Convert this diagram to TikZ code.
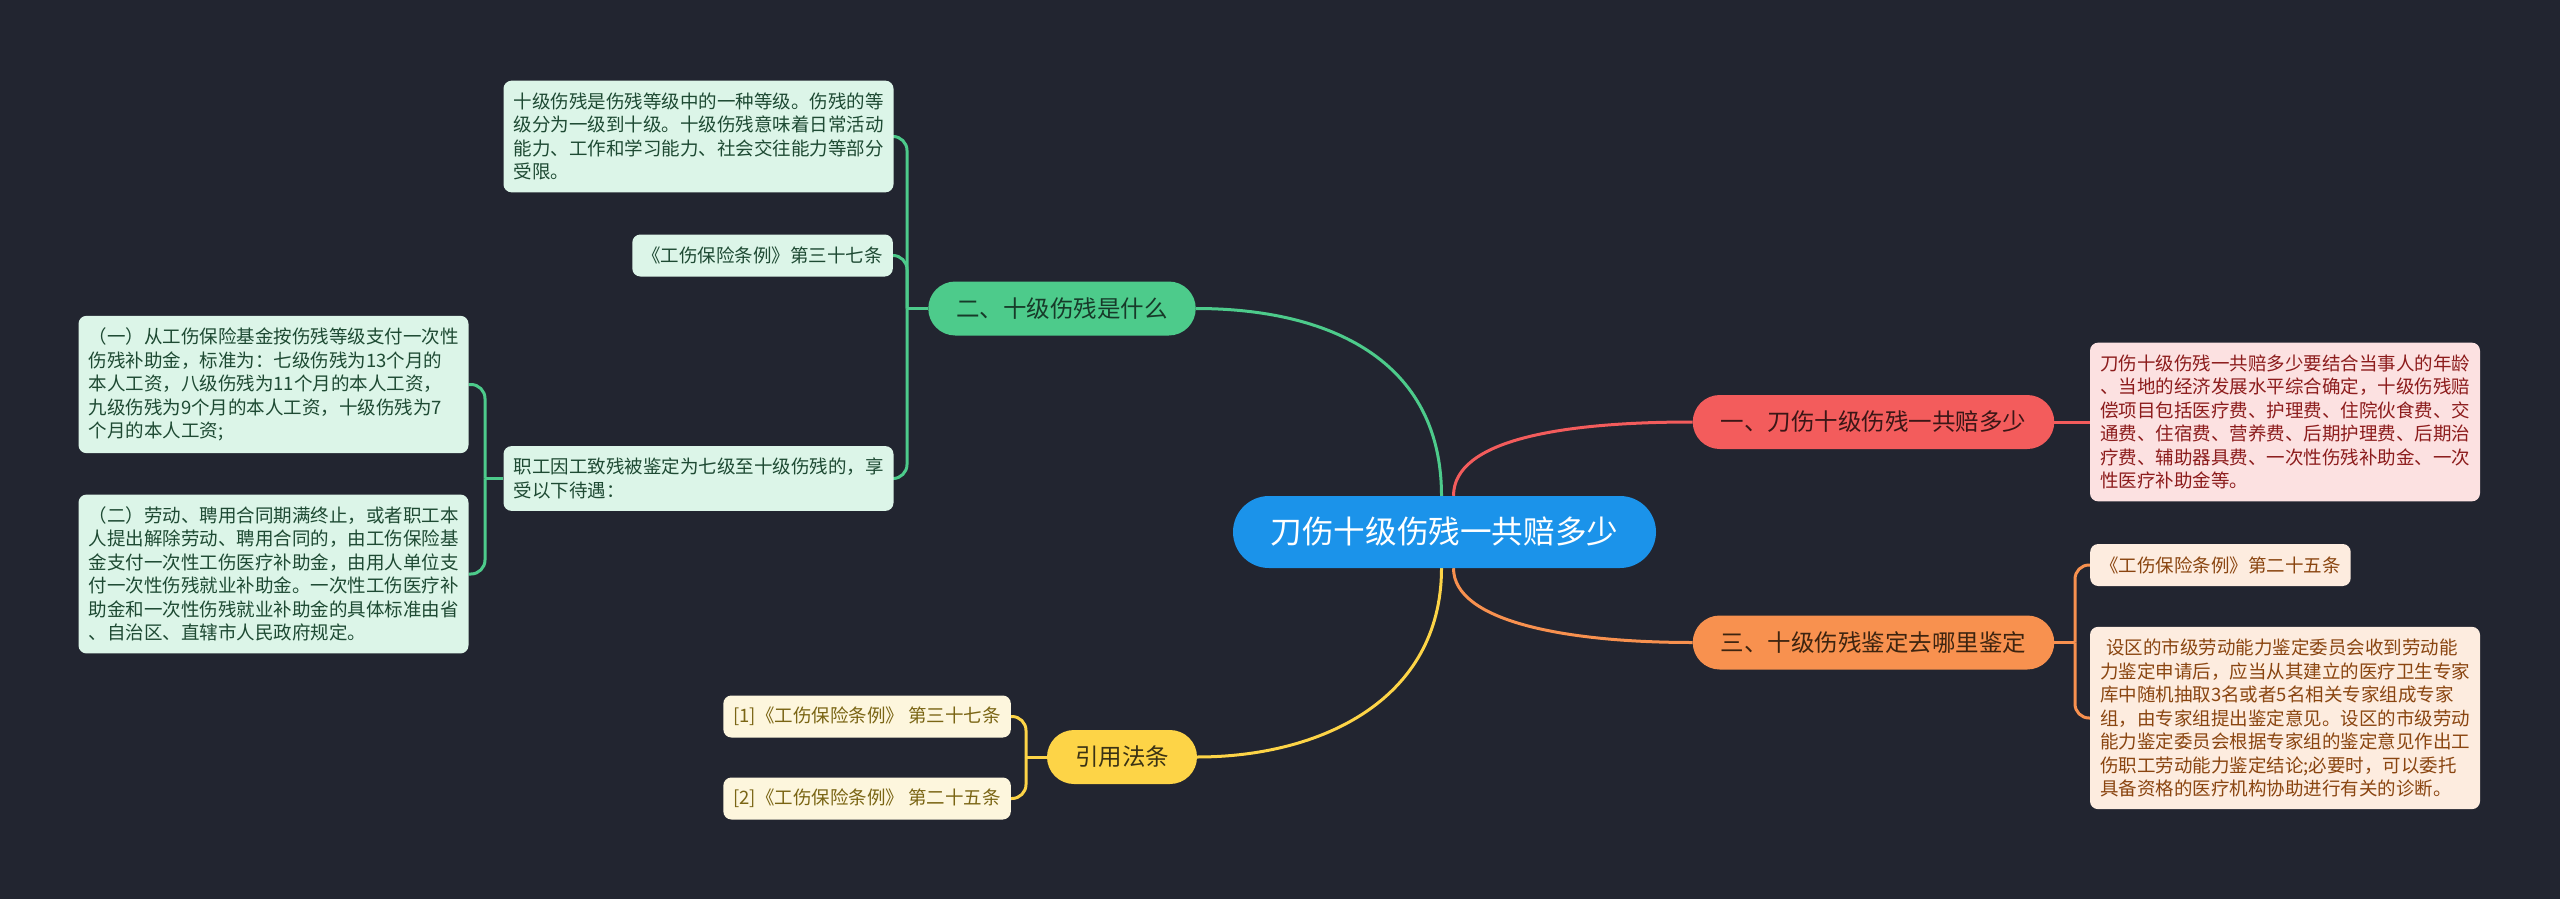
\documentclass[tikz,border=0pt]{standalone}
\usepackage{fontspec}
\setmainfont{Noto Sans CJK SC}
\usetikzlibrary{calc}
\pgfdeclarelayer{bg}\pgfdeclarelayer{edges}\pgfsetlayers{bg,edges,main}
\definecolor{bgc}{HTML}{222530}
\definecolor{blue}{HTML}{1B93EA}
\definecolor{gnode}{HTML}{4DCB8B}
\definecolor{gbox}{HTML}{DCF5E8}
\definecolor{gtxt}{HTML}{1E4A33}
\definecolor{gdark}{HTML}{173A29}
\definecolor{rnode}{HTML}{F35C5C}
\definecolor{rbox}{HTML}{FCE1E1}
\definecolor{rtxt}{HTML}{8C1C1C}
\definecolor{rdark}{HTML}{3B1616}
\definecolor{onode}{HTML}{F8914F}
\definecolor{obox}{HTML}{FDECDF}
\definecolor{otxt}{HTML}{8A4510}
\definecolor{odark}{HTML}{3D2410}
\definecolor{ynode}{HTML}{FDD447}
\definecolor{ybox}{HTML}{FDF6DD}
\definecolor{ytxt}{HTML}{7A6514}
\definecolor{ydark}{HTML}{3A3214}
\tikzset{
  bigbox/.style={font=\fontsize{18.5}{23.5}\selectfont, align=left, text width=370pt, inner xsep=10pt, inner ysep=12pt, rounded corners=8pt},
  smallbox/.style={font=\fontsize{18.5}{23.5}\selectfont, inner xsep=10pt, minimum height=42pt, rounded corners=8pt},
  lvl/.style={font=\fontsize{23.5}{28}\selectfont, minimum height=54pt, inner xsep=28pt, rounded corners=27pt},
  conn/.style={line width=3pt},
  brk/.style={line width=3pt, rounded corners=14pt}
}
\begin{document}
\begin{tikzpicture}[x=1pt,y=-1pt]
\begin{pgfonlayer}{bg}
\fill[bgc] (0,0) rectangle (2560,899);
\end{pgfonlayer}
\useasboundingbox (0,0) rectangle (2560,899);

% central
\node[fill=blue, text=white, font=\fontsize{31.6}{36}\selectfont, minimum height=72pt, minimum width=423pt, rounded corners=36pt] (c) at (1444.5,532) {刀伤十级伤残一共赔多少};

% green branch
\node[lvl, fill=gnode, text=gdark] (g2) at (1062,308.5) {二、十级伤残是什么};
\node[bigbox, fill=gbox, text=gtxt] (A) at (698.5,136.5) {十级伤残是伤残等级中的一种等级。伤残的等\\级分为一级到十级。十级伤残意味着日常活动\\能力、工作和学习能力、社会交往能力等部分\\受限。};
\node[smallbox, fill=gbox, text=gtxt, anchor=east] (B) at (893,255.5) {《工伤保险条例》第三十七条};
\node[bigbox, fill=gbox, text=gtxt] (C) at (698.5,478.5) {职工因工致残被鉴定为七级至十级伤残的，享\\受以下待遇：};
\node[bigbox, fill=gbox, text=gtxt] (D1) at (273.5,384.5) {（一）从工伤保险基金按伤残等级支付一次性\\伤残补助金，标准为：七级伤残为13个月的\\本人工资，八级伤残为11个月的本人工资，\\九级伤残为9个月的本人工资，十级伤残为7\\个月的本人工资;};
\node[bigbox, fill=gbox, text=gtxt] (D2) at (273.5,574) {（二）劳动、聘用合同期满终止，或者职工本\\人提出解除劳动、聘用合同的，由工伤保险基\\金支付一次性工伤医疗补助金，由用人单位支\\付一次性伤残就业补助金。一次性工伤医疗补\\助金和一次性伤残就业补助金的具体标准由省\\、自治区、直辖市人民政府规定。};

% red branch
\node[lvl, fill=rnode, text=rdark] (r1) at (1873.5,422) {一、刀伤十级伤残一共赔多少};
\node[bigbox, fill=rbox, text=rtxt] (R) at (2285,422) {刀伤十级伤残一共赔多少要结合当事人的年龄\\、当地的经济发展水平综合确定，十级伤残赔\\偿项目包括医疗费、护理费、住院伙食费、交\\通费、住宿费、营养费、后期护理费、后期治\\疗费、辅助器具费、一次性伤残补助金、一次\\性医疗补助金等。};

% orange branch
\node[lvl, fill=onode, text=odark] (o3) at (1873.5,642.5) {三、十级伤残鉴定去哪里鉴定};
\node[smallbox, fill=obox, text=otxt, anchor=west] (O1) at (2090,565) {《工伤保险条例》第二十五条};
\node[bigbox, fill=obox, text=otxt] (O2) at (2285,718) {\hspace*{6pt}设区的市级劳动能力鉴定委员会收到劳动能\\力鉴定申请后，应当从其建立的医疗卫生专家\\库中随机抽取3名或者5名相关专家组成专家\\组，由专家组提出鉴定意见。设区的市级劳动\\能力鉴定委员会根据专家组的鉴定意见作出工\\伤职工劳动能力鉴定结论;必要时，可以委托\\具备资格的医疗机构协助进行有关的诊断。};

% yellow branch
\node[lvl, fill=ynode, text=ydark] (y) at (1122,757) {引用法条};
\node[smallbox, fill=ybox, text=ytxt, anchor=east] (Y1) at (1011,716.5) {[1]《工伤保险条例》 第三十七条};
\node[smallbox, fill=ybox, text=ytxt, anchor=east] (Y2) at (1011,798.5) {[2]《工伤保险条例》 第二十五条};

\coordinate (gT) at (907,308.5);
\coordinate (cT) at (485,478.5);
\coordinate (yT) at (1026,757);
\coordinate (oT) at (2075,642.5);

\begin{pgfonlayer}{edges}
% main connectors
\draw[conn, gnode] ($(c.north)+(-3,0)$) .. controls +(0,-136) and +(133,0) .. (g2.east);
\draw[conn, rnode] ($(c.north)+(9,0)$) .. controls +(0,-56) and +(-131,0) .. (r1.west);
\draw[conn, onode] ($(c.south)+(9,0)$) .. controls +(0,52) and +(-131,0) .. (o3.west);
\draw[conn, ynode] ($(c.south)+(-3,0)$) .. controls +(0,132) and +(123,0) .. (y.east);
% green brackets
\draw[conn, gnode] (g2.west) -- (gT);
\draw[brk, gnode] (gT) |- (A.east);
\draw[brk, gnode] (gT) |- (B.east);
\draw[brk, gnode] (gT) |- (C.east);
\draw[conn, gnode] (C.west) -- (cT);
\draw[brk, gnode] (cT) |- (D1.east);
\draw[brk, gnode] (cT) |- (D2.east);
% red
\draw[conn, rnode] (r1.east) -- (R.west);
% orange
\draw[conn, onode] (o3.east) -- (oT);
\draw[brk, onode] (oT) |- (O1.west);
\draw[brk, onode] (oT) |- (O2.west);
% yellow
\draw[conn, ynode] (y.west) -- (yT);
\draw[brk, ynode] (yT) |- (Y1.east);
\draw[brk, ynode] (yT) |- (Y2.east);
\end{pgfonlayer}
\end{tikzpicture}
\end{document}
